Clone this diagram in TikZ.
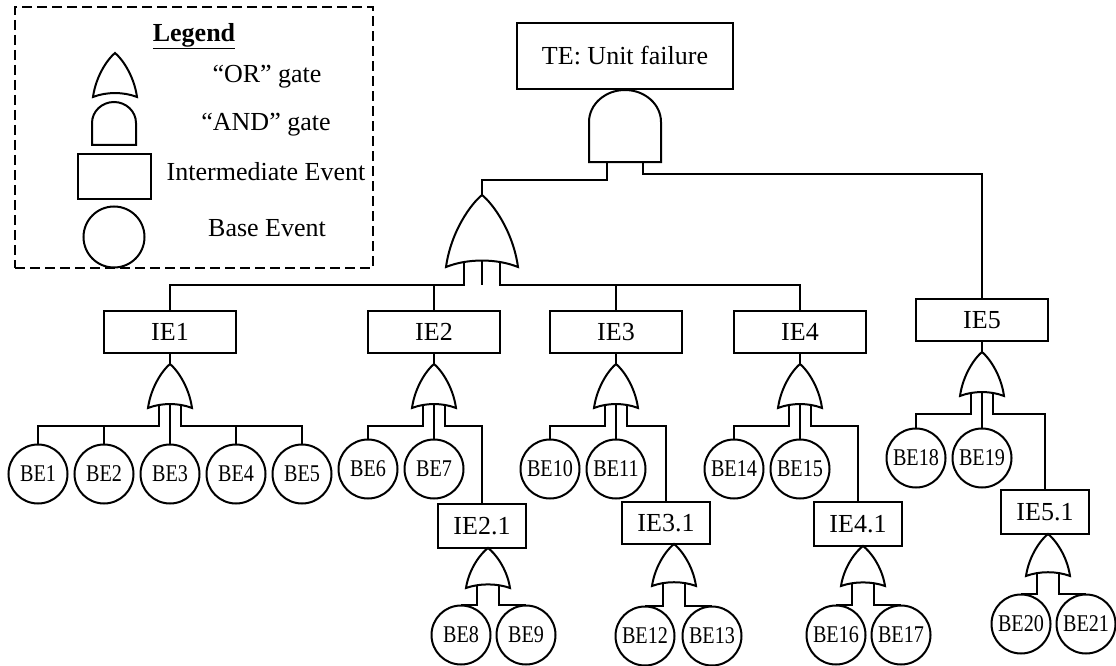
\documentclass[tikz,border=0pt]{standalone}
\usepackage{graphicx}
\usepackage{fontspec}
\setmainfont{Liberation Serif}
\usetikzlibrary{backgrounds}
\newcommand\belab[1]{\scalebox{0.84}[1]{BE#1}}
\tikzset{
  ln/.style={line width=2pt},
  txt/.style={font=\fontsize{26}{30}\selectfont, inner sep=0pt},
  iebox/.style={draw, ln, rectangle, minimum width=132pt, minimum height=42pt, inner sep=0pt, font=\fontsize{26}{30}\selectfont},
  iesmall/.style={iebox, minimum width=88pt, minimum height=44pt},
  be/.style={draw, ln, circle, minimum size=59pt, inner sep=0pt, font=\fontsize{24}{26}\selectfont},
  conn/.style={ln},
  pics/orgate/.style 2 args={code={
    \draw[ln, fill=white] (0,0) .. controls (-0.15*#1,0.12*#2) and (-0.43*#1,0.5*#2) .. (-0.5*#1,#2)
      .. controls (-0.2*#1,0.88*#2) and (0.2*#1,0.88*#2) .. (0.5*#1,#2)
      .. controls (0.43*#1,0.5*#2) and (0.15*#1,0.12*#2) .. cycle;
    \coordinate (-top) at (0,0);
    \coordinate (-in1) at (-0.25*#1,0.85*#2);
    \coordinate (-in2) at (0,0.85*#2);
    \coordinate (-in3) at (0.25*#1,0.85*#2);
    \coordinate (-bus) at (0,#2+18);
  }},
  pics/andgate/.style n args={3}{code={
    \draw[ln, fill=white] (-0.5*#1,#3) -- (-0.5*#1,#2)
      .. controls (-0.5*#1,0.448*#2) and (-0.276*#1,0) .. (0,0)
      .. controls (0.276*#1,0) and (0.5*#1,0.448*#2) .. (0.5*#1,#2)
      -- (0.5*#1,#3) -- cycle;
    \coordinate (-top) at (0,0);
    \coordinate (-in1) at (-0.25*#1,0.9*#3);
    \coordinate (-in2) at (0.25*#1,0.9*#3);
  }},
}
\begin{document}
\begin{tikzpicture}[x=1pt, y=-1pt]
\useasboundingbox (0,0) rectangle (1116,666);

% ---------- Legend ----------
\node[draw, ln, dash pattern=on 10pt off 5pt, minimum width=358pt, minimum height=261pt, inner sep=0pt] (legend) at (194,137.5) {};
\node[txt, anchor=base] (legtitle) at (194,41.5) {\underline{\textbf{Legend}}};
\pic (lor) at (115,53) {orgate={44}{44}};
\node[txt, anchor=base] (lortxt) at (267,83) {“OR” gate};
\pic (land) at (114,102) {andgate={44}{21}{43}};
\node[txt, anchor=base] (landtxt) at (266,131) {“AND” gate};
\node[draw, ln, minimum width=73pt, minimum height=45pt, inner sep=0pt] (lbox) at (114.5,176.5) {};
\node[txt, anchor=base] (lboxtxt) at (266,180) {Intermediate Event};
\node[draw, ln, circle, minimum size=61pt, inner sep=0pt] (lcirc) at (114,237) {};
\node[txt, anchor=base] (lcirctxt) at (267,236) {Base Event};

% ---------- Top ----------
\node[iebox, minimum width=216pt, minimum height=66pt] (TE) at (625,56) {TE: Unit failure};
\pic (and) at (625,90) {andgate={72}{32}{72}};
\coordinate (lvlA) at (0,180);
\coordinate (lvlB) at (0,174);
\pic (g0) at (482,195) {orgate={72}{72}};

% ---------- IE level ----------
\node[iebox] (IE1) at (170,332) {IE1};
\node[iebox] (IE2) at (434,332) {IE2};
\node[iebox] (IE3) at (616,332) {IE3};
\node[iebox] (IE4) at (800,332) {IE4};
\node[iebox] (IE5) at (982,320) {IE5};

\pic (g1) at (170,364) {orgate={44}{44}};
\pic (g2) at (434,364) {orgate={44}{44}};
\pic (g3) at (616,364) {orgate={44}{44}};
\pic (g4) at (800,364) {orgate={44}{44}};
\pic (g5) at (982,352) {orgate={44}{44}};

% ---------- BE row 1 ----------
\node[be] (BE1) at (38,474) {\belab{1}};
\node[be] (BE2) at (104,474) {\belab{2}};
\node[be] (BE3) at (170,474) {\belab{3}};
\node[be] (BE4) at (236,474) {\belab{4}};
\node[be] (BE5) at (302,474) {\belab{5}};
\node[be] (BE6) at (368,469) {\belab{6}};
\node[be] (BE7) at (434,469) {\belab{7}};
\node[be] (BE10) at (550,469) {\belab{10}};
\node[be] (BE11) at (616,469) {\belab{11}};
\node[be] (BE14) at (734,469) {\belab{14}};
\node[be] (BE15) at (800,469) {\belab{15}};
\node[be] (BE18) at (916,458) {\belab{18}};
\node[be] (BE19) at (982,458) {\belab{19}};

% ---------- sub IEs ----------
\node[iesmall] (IE21) at (482,526) {IE2.1};
\node[iesmall, minimum height=42pt] (IE31) at (666,523) {IE3.1};
\node[iesmall] (IE41) at (858,524) {IE4.1};
\node[iesmall] (IE51) at (1045,512) {IE5.1};

\pic (g21) at (488,548) {orgate={44}{40}};
\pic (g31) at (674,544) {orgate={44}{42}};
\pic (g41) at (863,546) {orgate={44}{40}};
\pic (g51) at (1048,534) {orgate={44}{42}};

\node[be] (BE8) at (461,635) {\belab{8}};
\node[be] (BE9) at (526,635) {\belab{9}};
\node[be] (BE12) at (645,636) {\belab{12}};
\node[be] (BE13) at (712,636) {\belab{13}};
\node[be] (BE16) at (836,635) {\belab{16}};
\node[be] (BE17) at (901,635) {\belab{17}};
\node[be] (BE20) at (1021,624) {\belab{20}};
\node[be] (BE21) at (1086,624) {\belab{21}};

% ---------- connectors ----------
\begin{scope}[on background layer]
\draw[conn] (and-in1) -- (and-in1 |- lvlA) -| (g0-top);
\draw[conn] (and-in2) -- (and-in2 |- lvlB) -| (IE5.north);

\draw[conn] (g0-in1) -- (g0-in1 |- g0-bus) -| (IE1.north);
\draw[conn] (g0-in1 |- g0-bus) -| (IE2.north);
\draw[conn] (g0-in2) -- (g0-bus);
\draw[conn] (g0-in3) -- (g0-in3 |- g0-bus) -| (IE4.north);
\draw[conn] (g0-in3 |- g0-bus) -| (IE3.north);

\draw[conn] (IE1.south) -- (g1-top);
\draw[conn] (g1-in1) -- (g1-in1 |- g1-bus) -| (BE1.north);
\draw[conn] (g1-in1 |- g1-bus) -| (BE2.north);
\draw[conn] (g1-in2) -- (g1-in2 |- BE3.north);
\draw[conn] (g1-in3) -- (g1-in3 |- g1-bus) -| (BE5.north);
\draw[conn] (g1-in3 |- g1-bus) -| (BE4.north);

\draw[conn] (IE2.south) -- (g2-top);
\draw[conn] (g2-in1) -- (g2-in1 |- g2-bus) -| (BE6.north);
\draw[conn] (g2-in2) -- (g2-in2 |- BE7.north);
\draw[conn] (g2-in3) -- (g2-in3 |- g2-bus) -| (IE21.north);

\draw[conn] (IE3.south) -- (g3-top);
\draw[conn] (g3-in1) -- (g3-in1 |- g3-bus) -| (BE10.north);
\draw[conn] (g3-in2) -- (g3-in2 |- BE11.north);
\draw[conn] (g3-in3) -- (g3-in3 |- g3-bus) -| (IE31.north);

\draw[conn] (IE4.south) -- (g4-top);
\draw[conn] (g4-in1) -- (g4-in1 |- g4-bus) -| (BE14.north);
\draw[conn] (g4-in2) -- (g4-in2 |- BE15.north);
\draw[conn] (g4-in3) -- (g4-in3 |- g4-bus) -| (IE41.north);

\draw[conn] (IE5.south) -- (g5-top);
\draw[conn] (g5-in1) -- (g5-in1 |- g5-bus) -| (BE18.north);
\draw[conn] (g5-in2) -- (g5-in2 |- BE19.north);
\draw[conn] (g5-in3) -- (g5-in3 |- g5-bus) -| (IE51.north);

\draw[conn] (g21-in1) |- (BE8.north);
\draw[conn] (g21-in3) |- (BE9.north);
\draw[conn] (g31-in1) |- (BE12.north);
\draw[conn] (g31-in3) |- (BE13.north);
\draw[conn] (g41-in1) |- (BE16.north);
\draw[conn] (g41-in3) |- (BE17.north);
\draw[conn] (g51-in1) |- (BE20.north);
\draw[conn] (g51-in3) |- (BE21.north);
\end{scope}
\end{tikzpicture}
\end{document}
